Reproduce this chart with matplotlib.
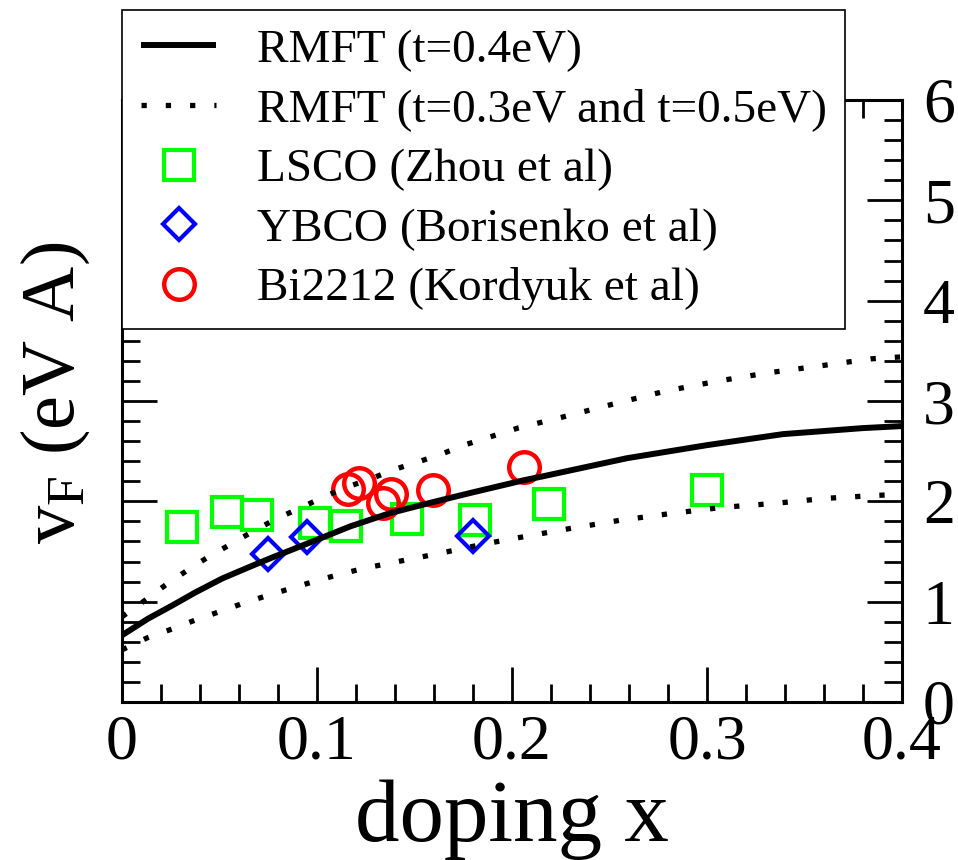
import numpy as np
import matplotlib
matplotlib.use('Agg')
import matplotlib.pyplot as plt

# RMFT curves
x_t04 = [0.0, 0.0133, 0.0256, 0.0374, 0.0513, 0.0646, 0.077, 0.0887, 0.099, 0.117,
         0.137, 0.159, 0.180, 0.206, 0.216, 0.259, 0.300, 0.339, 0.380, 0.400]
y_t04 = [0.665, 0.83, 0.96, 1.09, 1.23, 1.34, 1.44, 1.53, 1.61, 1.75,
         1.88, 1.99, 2.09, 2.21, 2.25, 2.43, 2.56, 2.67, 2.73, 2.75]

x_t05 = [0.0, 0.0123, 0.0226, 0.0333, 0.0446, 0.0564, 0.068, 0.0795, 0.091, 0.103,
         0.115, 0.127, 0.140, 0.153, 0.165, 0.177, 0.190, 0.203, 0.228, 0.254,
         0.279, 0.306, 0.331, 0.358, 0.384, 0.400]
y_t05 = [0.85, 1.02, 1.17, 1.31, 1.45, 1.58, 1.71, 1.83, 1.93, 2.04,
         2.14, 2.22, 2.32, 2.40, 2.48, 2.57, 2.65, 2.73, 2.85, 2.98,
         3.10, 3.20, 3.28, 3.35, 3.42, 3.44]

x_t03 = [0.0, 0.013, 0.026, 0.038, 0.050, 0.063, 0.076, 0.088, 0.100, 0.113,
         0.126, 0.139, 0.152, 0.165, 0.177, 0.190, 0.204, 0.230, 0.255, 0.282,
         0.308, 0.335, 0.361, 0.388, 0.400]
y_t03 = [0.52, 0.64, 0.73, 0.82, 0.90, 0.99, 1.07, 1.14, 1.21, 1.28,
         1.34, 1.39, 1.44, 1.49, 1.54, 1.59, 1.64, 1.73, 1.81, 1.88,
         1.94, 1.98, 2.03, 2.06, 2.07]

# experimental points
x_lsco = [0.031, 0.054, 0.069, 0.099, 0.115, 0.146, 0.181, 0.219, 0.300]
y_lsco = [1.74, 1.89, 1.86, 1.78, 1.75, 1.82, 1.81, 1.97, 2.11]

x_ybco = [0.075, 0.095, 0.180]
y_ybco = [1.48, 1.64, 1.65]

x_bi = [0.116, 0.1215, 0.134, 0.138, 0.1595, 0.206]
y_bi = [2.12, 2.18, 1.98, 2.07, 2.11, 2.34]

plt.rcParams['font.family'] = ['Liberation Serif', 'DejaVu Serif']
plt.rcParams['mathtext.fontset'] = 'custom'
plt.rcParams['mathtext.rm'] = 'Liberation Serif'
plt.rcParams['mathtext.it'] = 'Liberation Serif:italic'

fig = plt.figure(figsize=(9.58, 8.6), dpi=100)
ax = fig.add_axes([122/958, 1-702/860, 780/958, 602/860])

dots = (0, (1, 3.6))
l1, = ax.plot(x_t04, y_t04, color='black', lw=4.3, zorder=4, solid_capstyle='butt')
l2, = ax.plot(x_t05, y_t05, color='black', lw=3.8, ls=dots, dash_capstyle='butt', zorder=4)
ax.plot(x_t03, y_t03, color='black', lw=3.8, ls=dots, dash_capstyle='butt', zorder=4)

m1, = ax.plot(x_lsco, y_lsco, ls='none', marker='s', ms=21, mfc='none',
              mec='#00ff00', mew=3, zorder=3)
m2, = ax.plot(x_ybco, y_ybco, ls='none', marker='D', ms=16, mfc='none',
              mec='#0000ff', mew=3, zorder=3)
m3, = ax.plot(x_bi, y_bi, ls='none', marker='o', ms=22, mfc='none',
              mec='#ff0000', mew=3.2, zorder=3)

ax.set_xlim(0, 0.4)
ax.set_ylim(0, 6)
ax.set_xticks(np.arange(0, 0.41, 0.1))
ax.set_xticklabels(['0', '0.1', '0.2', '0.3', '0.4'])
ax.set_xticks(np.arange(0, 0.401, 0.02), minor=True)
ax.set_yticks(np.arange(0, 7, 1))
ax.set_yticks(np.arange(0, 6.01, 0.2), minor=True)

for s in ax.spines.values():
    s.set_linewidth(2.2)

ax.tick_params(which='both', direction='in', top=True, bottom=True,
               left=True, right=True, width=2)
ax.tick_params(which='major', length=25)
ax.tick_params(which='minor', length=13)
ax.tick_params(axis='x', which='major', labelsize=46, pad=9)
ax.tick_params(axis='y', which='major', labelsize=46, pad=15,
               labelleft=False, labelright=True)

ax.set_xlabel('doping x', fontsize=64, labelpad=5)
fig.text(0.058, 1-393/860, r'v$_\mathrm{F}$ (eV A)', fontsize=55, rotation=90,
         ha='center', va='center')

leg = ax.legend([l1, l2, m1, m2, m3],
                ['RMFT (t=0.4eV)', 'RMFT (t=0.3eV and t=0.5eV)',
                 'LSCO (Zhou et al)', 'YBCO (Borisenko et al)',
                 'Bi2212 (Kordyuk et al)'],
                loc='upper left', bbox_to_anchor=(122/958, 1-10/860),
                bbox_transform=fig.transFigure, borderaxespad=0,
                fontsize=34, numpoints=1, handlelength=1.6, handletextpad=0.85,
                labelspacing=0.35, borderpad=0.4, fancybox=False,
                framealpha=1, edgecolor='black')
leg.get_frame().set_linewidth(1.2)
leg.set_zorder(10)

fig.savefig('out.png', dpi=100)
